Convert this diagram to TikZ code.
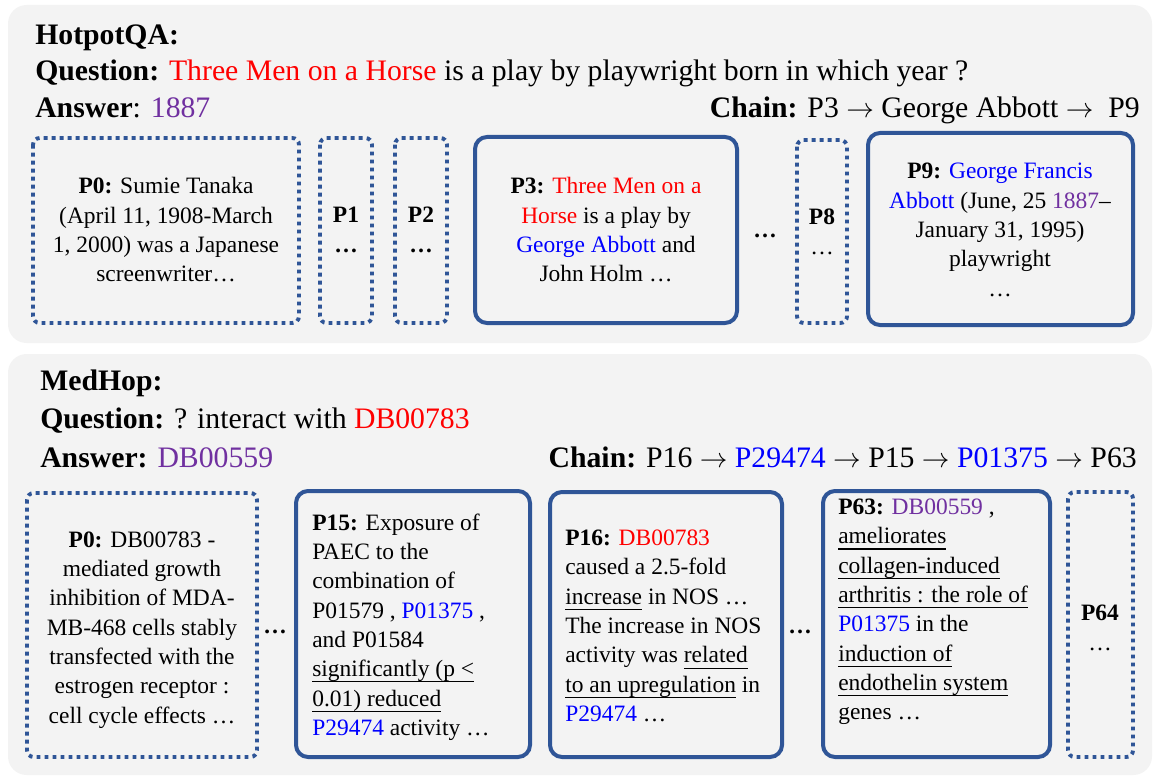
\documentclass[tikz,border=0pt]{standalone}
\usepackage{fontspec}
\setmainfont{Liberation Serif}
\definecolor{boxblue}{HTML}{2F5597}
\definecolor{qred}{HTML}{FF0000}
\definecolor{eblue}{HTML}{0000FF}
\definecolor{apurple}{HTML}{7030A0}
\definecolor{panelgray}{HTML}{F3F3F3}
\newcommand{\qred}[1]{\textcolor{qred}{#1}}
\newcommand{\eblue}[1]{\textcolor{eblue}{#1}}
\newcommand{\apurple}[1]{\textcolor{apurple}{#1}}
\newcommand{\hop}{$\rightarrow$}
% underline at a fixed depth below the baseline
\newlength{\ulwd}
\newcommand{\uln}[1]{\settowidth{\ulwd}{#1}\rlap{\rule[-4.2pt]{\ulwd}{0.8pt}}#1}
\tikzset{
  panel/.style={fill=panelgray, draw=none, rounded corners=14pt},
  solidbox/.style={draw=boxblue, line width=3pt, rounded corners=9pt},
  dotbox/.style={draw=boxblue, line width=2.9pt, dash pattern=on 2.9pt off 3.1pt, rounded corners=5pt},
  head/.style={anchor=base west, font=\fontsize{22.3}{26}\selectfont, inner sep=0pt},
  chainline/.style={anchor=base east, font=\fontsize{22.3}{26}\selectfont, inner sep=0pt},
  txt/.style={font=\fontsize{17.6}{22}\selectfont, inner sep=0pt, align=center},
  ltxt/.style={font=\fontsize{17.6}{22}\selectfont, inner sep=0pt, align=left, anchor=west},
  gap/.style={font=\bfseries\fontsize{17.6}{22}\selectfont, inner sep=0pt}
}
\begin{document}
\begin{tikzpicture}[x=0.75pt, y=-0.75pt]
\useasboundingbox[fill=white] (0,0) rectangle (1155,777);

% ---------- HotpotQA panel ----------
\fill[panel] (8,5) rectangle (1152,343);
\node[head] (hq)  at (35,45)  {\textbf{HotpotQA:}};
\node[head] (hqq) at (35,81)  {\textbf{Question:} \qred{Three Men on a Horse} is a play by playwright born in which year ?};
\node[head] (hqa) at (35,118) {\textbf{Answer}: \apurple{1887}};
\node[chainline] (hqc) at (1140,118) {\textbf{Chain:} P3 \hop{} George Abbott \hop\ \ P9};

\draw[dotbox]   (33,138)  rectangle (299,323);
\draw[dotbox]   (320,138) rectangle (372,323);
\draw[dotbox]   (395,138) rectangle (447,323);
\draw[solidbox] (475,137) rectangle (737,323);
\draw[dotbox]   (797,140) rectangle (847,323);
\draw[solidbox] (868,133) rectangle (1133,325);

\node[txt] (hp0) at (166,230) {\textbf{P0:} Sumie Tanaka\\(April 11, 1908-March\\1, 2000) was a Japanese\\screenwriter…};
\node[txt] (hp1) at (346,230) {\textbf{P1}\\\textbf{…}};
\node[txt] (hp2) at (421,230) {\textbf{P2}\\\textbf{…}};
\node[txt] (hp3) at (606,230) {\textbf{P3:} \qred{Three Men on a}\\\qred{Horse} is a play by\\\eblue{George Abbott} and\\John Holm …};
\node[gap] (hgap) at (765,236) {…};
\node[txt] (hp8) at (822,232) {\textbf{P8}\\…};
\node[txt] (hp9) at (1000,230) {\textbf{P9:} \eblue{George Francis}\\\eblue{Abbott} (June, 25 \apurple{1887}–\\January 31, 1995)\\playwright\\…};

% ---------- MedHop panel ----------
\fill[panel] (8,354) rectangle (1152,775);
\node[head] (mh)  at (40,390) {\textbf{MedHop:}};
\node[head] (mhq) at (40,428) {\textbf{Question:} ? interact with \qred{DB00783}};
\node[head] (mha) at (40,467) {\textbf{Answer:} \apurple{DB00559}};
\node[chainline] (mhc) at (1137,467) {\textbf{Chain:} P16 \hop{} \eblue{P29474} \hop{} P15 \hop{} \eblue{P01375} \hop{} P63};

\draw[dotbox]   (27,493)  rectangle (257,757);
\draw[solidbox] (296,491) rectangle (530,757);
\draw[solidbox] (550,492) rectangle (782,757);
\draw[solidbox] (823,491) rectangle (1050,757);
\draw[dotbox]   (1068,492) rectangle (1133,757);

\node[txt] (mp0) at (142,630) {\textbf{P0:} DB00783 -\\mediated growth\\inhibition of MDA-\\MB-468 cells stably\\transfected with the\\estrogen receptor :\\cell cycle effects …};
\node[gap] (mgap1) at (275,632) {…};
\node[ltxt] (mp15) at (312,627) {\textbf{P15:} Exposure of\\PAEC to the\\combination of\\P01579 , \eblue{P01375} ,\\and P01584\\\uln{significantly (p <}\\\uln{0.01) reduced}\\\eblue{P29474} activity …};
\node[ltxt] (mp16) at (565,626) {\textbf{P16:} \qred{DB00783}\\caused a 2.5-fold\\\uln{increase} in NOS …\\The increase in NOS\\activity was \uln{related}\\\uln{to an upregulation} in\\\eblue{P29474} …};
\node[gap] (mgap2) at (800,632) {…};
\node[ltxt] (mp63) at (838,612) {\textbf{P63:} \apurple{DB00559} ,\\\uln{ameliorates}\\\uln{collagen-induced}\\\uln{arthritis : the role of}\\\eblue{P01375} in the\\\uln{induction of}\\\uln{endothelin system}\\genes …};
\node[txt] (mp64) at (1100,628) {\textbf{P64}\\…};
\end{tikzpicture}
\end{document}
